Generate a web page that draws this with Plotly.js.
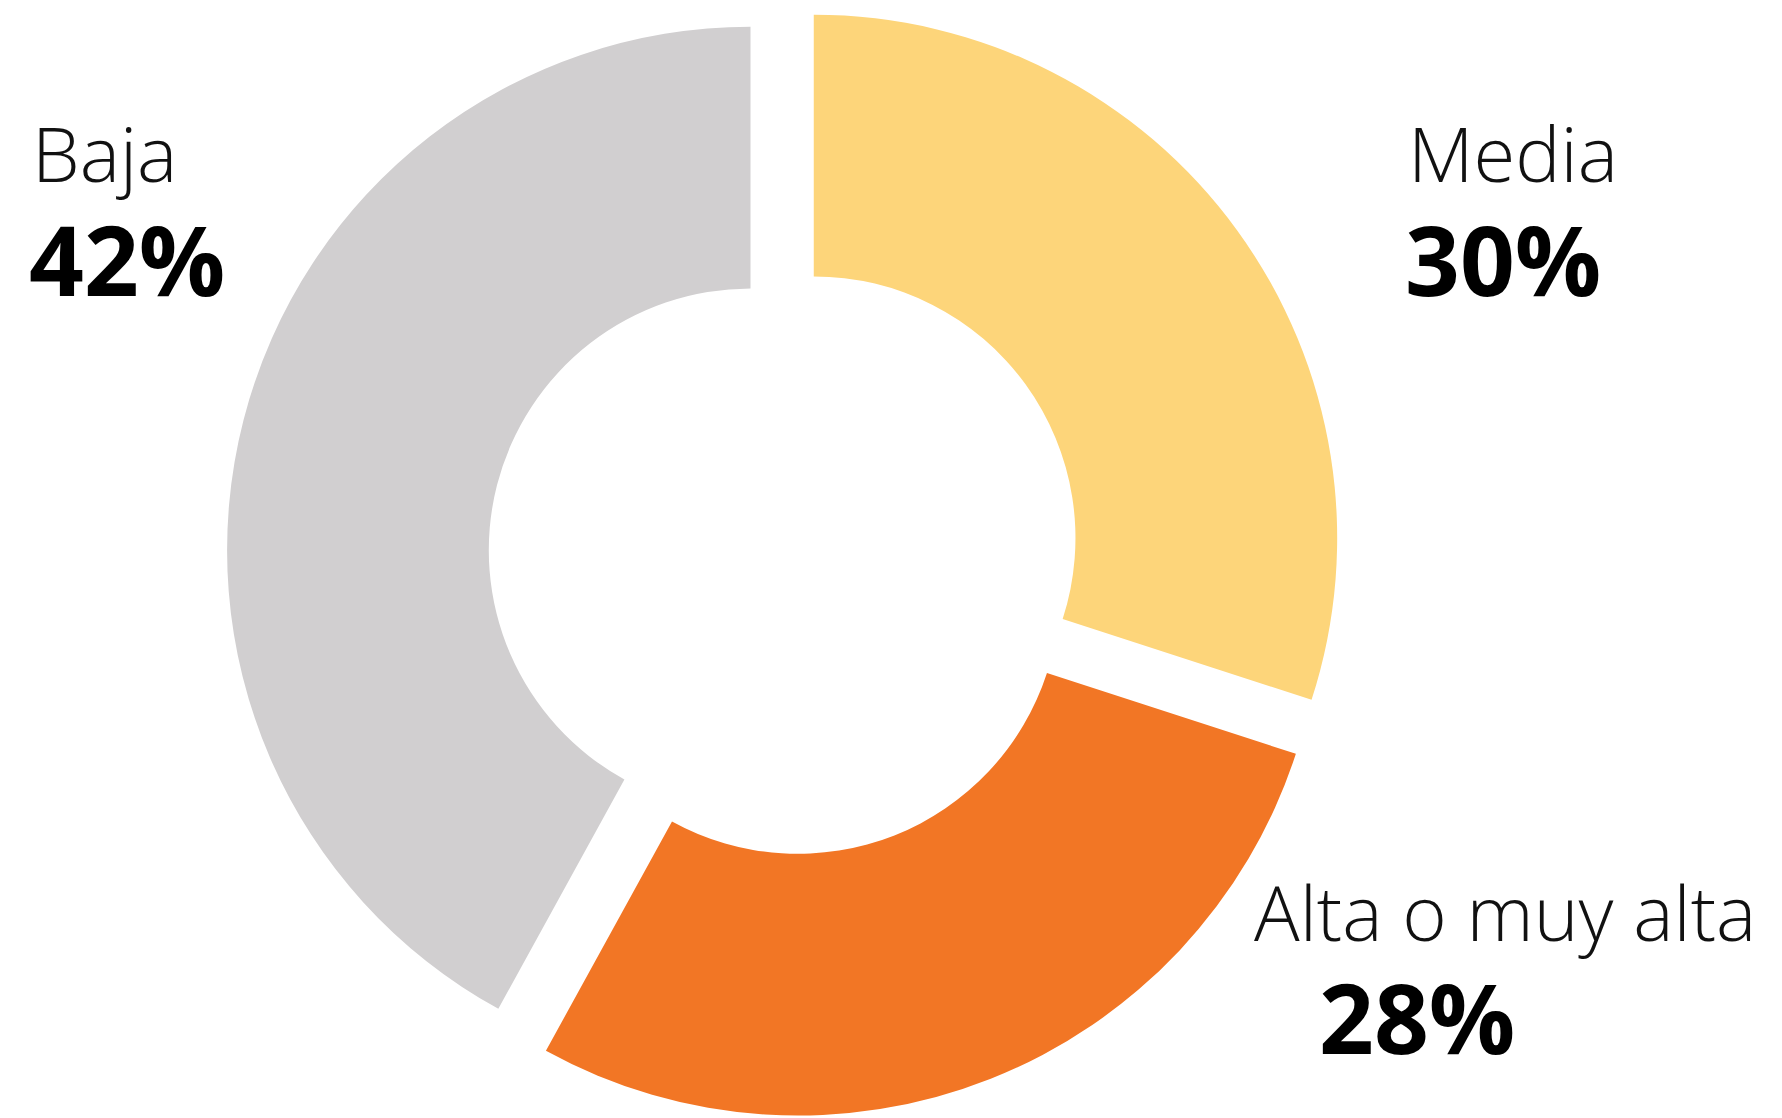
<!DOCTYPE html>
<html>
<head>
<meta charset="utf-8">
<script src="https://cdn.plot.ly/plotly-3.0.1.min.js"></script>
<style>html,body{margin:0;padding:0;background:#fff;}#chart{width:1782px;height:1118px;}</style>
</head>
<body>
<div id="chart"></div>
<script>
const categories = ["Media", "Alta o muy alta", "Baja"];
const values = [30, 28, 42];
const valueLabels = ["30%", "28%", "42%"];
const colors = ["#FDD57A", "#F27625", "#D1CFD0"];

const W = 1782, H = 1118;
// label positions in pixels (left x, vertical centre y) for name and value
const namePos = [[1406, 153], [1252, 911], [30, 153]];
const valPos = [[1403, 258], [1317, 1016], [27, 258]];

const annotations = [];
categories.forEach((c, i) => {
  annotations.push({
    text: c, xref: "paper", yref: "paper",
    x: namePos[i][0] / W, y: 1 - namePos[i][1] / H,
    xanchor: "left", yanchor: "middle", showarrow: false,
    font: {family: "Open Sans", size: 76, weight: 300, color: "#111"}
  });
  annotations.push({
    text: valueLabels[i], xref: "paper", yref: "paper",
    x: valPos[i][0] / W, y: 1 - valPos[i][1] / H,
    xanchor: "left", yanchor: "middle", showarrow: false,
    font: {family: "Open Sans", size: 96, weight: 700, color: "#000"}
  });
});

const data = [{
  type: "pie",
  labels: categories,
  values: values,
  marker: {colors: colors, line: {width: 0}},
  hole: 0.5,
  pull: 0.068,
  sort: false,
  direction: "clockwise",
  rotation: 0,
  textinfo: "none",
  hoverinfo: "none",
  showlegend: false,
  domain: {x: [0.1, 0.781], y: [0, 1]}
}];

const layout = {
  width: W, height: H,
  margin: {l: 0, r: 0, t: 0, b: 0},
  paper_bgcolor: "#fff",
  plot_bgcolor: "#fff",
  showlegend: false,
  annotations: annotations
};

Plotly.newPlot("chart", data, layout, {displayModeBar: false, staticPlot: true});
</script>
</body>
</html>
